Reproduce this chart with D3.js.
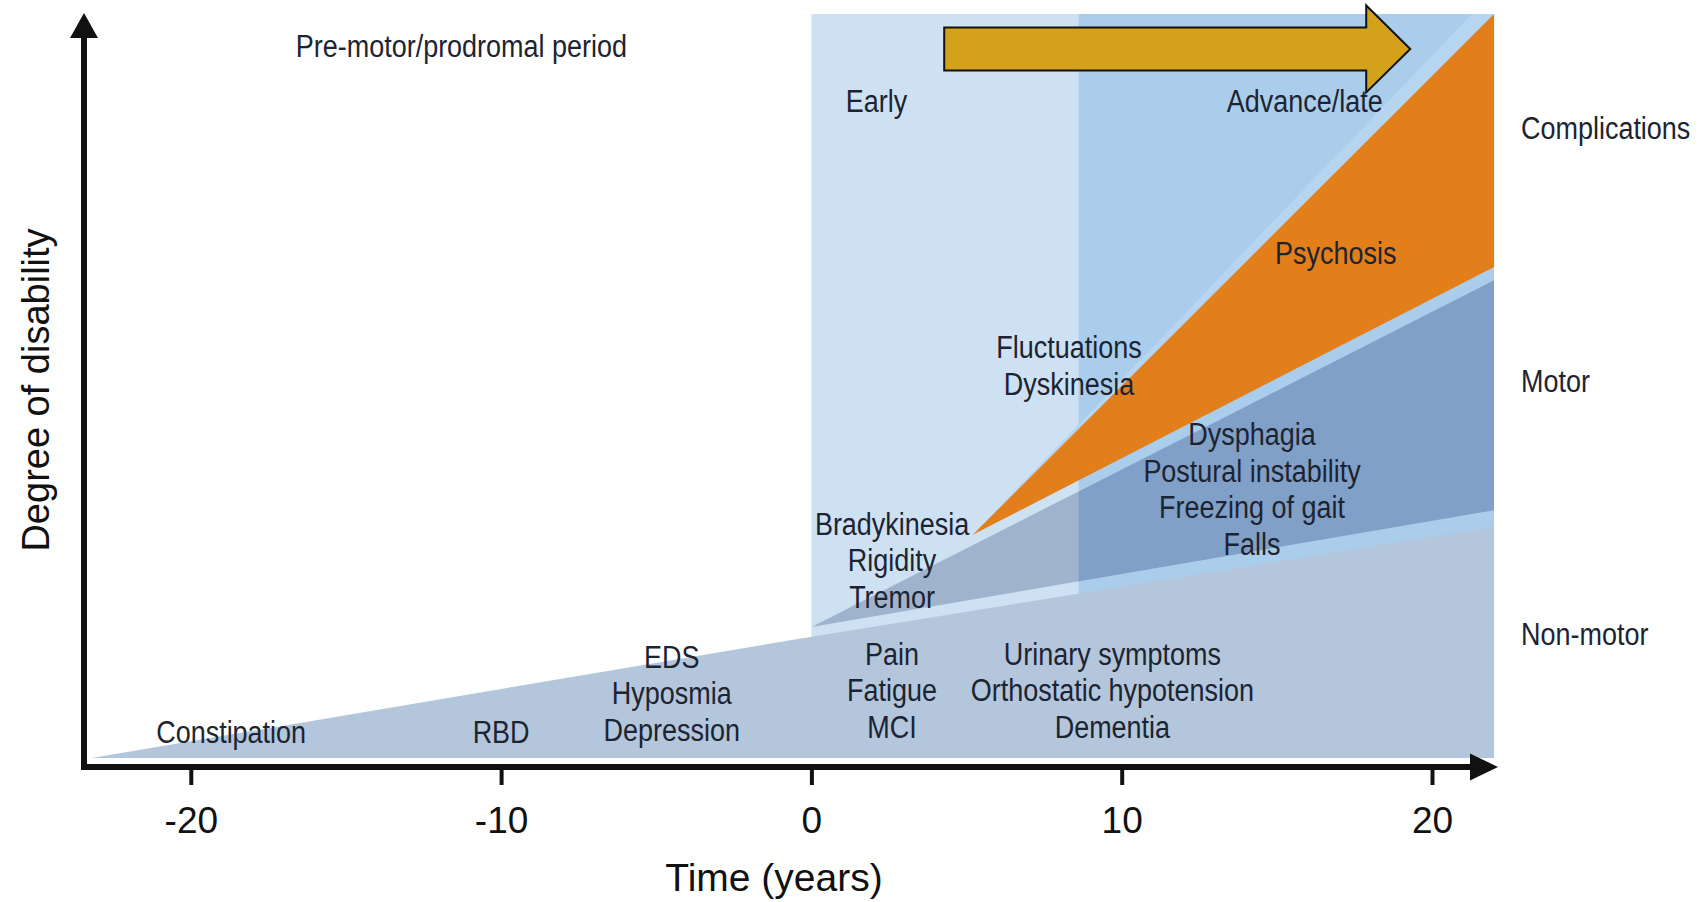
<!DOCTYPE html>
<html lang="en">
<head>
<meta charset="UTF-8">
<title>Progression of Parkinson's disease</title>
<script src="https://d3js.org/d3.v7.min.js"></script>
<style>
  body { margin: 0; background: #fff; }
  text { font-family: "Liberation Sans", Arial, Helvetica, sans-serif; fill: #1d2431; }
</style>
</head>
<body>
<svg id="chart" width="1700" height="902"></svg>
<script>
// time axis (years)
const xTicks = [-20, -10, 0, 10, 20];

// stages
const stageNames = ["Early", "Advance/late"];
const stageStart = [0, 8.6];
const stageEnd = [8.6, 22];
const stageLabelYear = [2.1, 15.9];

// bands: degree of disability (0-100) at given years
const nonMotorYears = [-23.2, 0, 22];
const nonMotorTop = [0, 16.3, 31.1];
const motorYears = [0, 22];
const motorLow = [17.6, 33.3];
const motorHigh = [17.6, 64.2];
const complYears = [5.2, 22];
const complLow = [30, 66];
const complHigh = [30, 100];

// symptoms, each group centred on a year, last line sitting at a level
const symptomGroups = [
  ["Constipation"],
  ["RBD"],
  ["EDS", "Hyposmia", "Depression"],
  ["Pain", "Fatigue", "MCI"],
  ["Urinary symptoms", "Orthostatic hypotension", "Dementia"],
  ["Bradykinesia", "Rigidity", "Tremor"],
  ["Fluctuations", "Dyskinesia"],
  ["Dysphagia", "Postural instability", "Freezing of gait", "Falls"],
  ["Psychosis"]
];
const symptomYear = [-18.7, -10, -4.5, 2.6, 9.7, 2.6, 8.3, 14.2, 16.9];
const symptomLevel = [2.0, 2.0, 2.3, 2.7, 2.7, 20.2, 48.8, 27.3, 66.4];

// categories on the right
const categoryNames = ["Complications", "Motor", "Non-motor"];
const categoryLevel = [83.2, 49.2, 15.2];

// progress arrow: start, head base, tip (years)
const arrowYears = [4.28, 17.88, 19.3];

const svg = d3.select("#chart");

const x = d3.scaleLinear().domain([-20, 20]).range([190.8, 1432]);
const y = d3.scaleLinear().domain([0, 100]).range([758, 14]);

const lineGap = 36.5;
const squeeze = 0.87;   // the labels use a narrow face

// stage panels
svg.selectAll("rect.stage")
  .data(stageNames)
  .enter()
  .append("rect")
  .attr("x", (d, i) => x(stageStart[i]))
  .attr("y", y(100))
  .attr("width", (d, i) => x(stageEnd[i]) - x(stageStart[i]))
  .attr("height", y(0) - y(100))
  .style("fill", (d, i) => i === 0 ? "#cde1f3" : "#abcdec");

// light strip above the complications band
svg.append("path")
  .attr("d", d3.line()([
    [x(complYears[0]), y(complHigh[0])],
    [x(complYears[1]), y(complHigh[1])],
    [x(complYears[1]) - 22, y(complHigh[1])]
  ]))
  .style("fill", "#b6d5f1");

const area = d3.area()
  .x(d => x(d.year))
  .y0(d => y(d.lo))
  .y1(d => y(d.hi));

// non-motor band
const nonMotor = nonMotorYears.map((yr, i) => ({ year: yr, lo: 0, hi: nonMotorTop[i] }));
svg.append("path")
  .attr("d", area(nonMotor))
  .style("fill", "#b3c6dc");

// motor band, two shades following the stages
const motor = motorYears.map((yr, i) => ({ year: yr, lo: motorLow[i], hi: motorHigh[i] }));
const motorColors = ["#a0b3cc", "#80a0c8"];
stageNames.forEach((s, i) => {
  svg.append("clipPath")
    .attr("id", "clip" + i)
    .append("rect")
    .attr("x", x(stageStart[i]))
    .attr("y", 0)
    .attr("width", x(stageEnd[i]) - x(stageStart[i]))
    .attr("height", 902);
  svg.append("path")
    .attr("d", area(motor))
    .attr("clip-path", "url(#clip" + i + ")")
    .style("fill", motorColors[i]);
});

// complications band
const compl = complYears.map((yr, i) => ({ year: yr, lo: complLow[i], hi: complHigh[i] }));
svg.append("path")
  .attr("d", area(compl))
  .style("fill", "#e27f1b");

// golden progress arrow
const ay = y(95.3);
const ax0 = x(arrowYears[0]), ax1 = x(arrowYears[1]), ax2 = x(arrowYears[2]);
svg.append("path")
  .attr("d", d3.line()([
    [ax0, ay - 21.5], [ax1, ay - 21.5], [ax1, ay - 43.5], [ax2, ay],
    [ax1, ay + 43.5], [ax1, ay + 21.5], [ax0, ay + 21.5]
  ]) + "Z")
  .style("fill", "#d4a21a")
  .style("stroke", "#111")
  .style("stroke-width", 2);

// helper for narrow labels
function label(tx, ty, str, size, anchor) {
  svg.append("text")
    .attr("transform", `translate(${tx},${ty}) scale(${squeeze},1)`)
    .attr("text-anchor", anchor || "middle")
    .style("font-size", size + "px")
    .text(str);
}

// stage names and prodromal title
stageNames.forEach((s, i) => label(x(stageLabelYear[i]), y(86.8), s, 31));
label(x(-11.28), y(94.2), "Pre-motor/prodromal period", 31);

// symptoms
symptomGroups.forEach((lines, i) => {
  const n = lines.length;
  lines.forEach((t, j) => {
    label(x(symptomYear[i]), y(symptomLevel[i]) - (n - 1 - j) * lineGap, t, 31);
  });
});

// categories on the right
categoryNames.forEach((c, i) => label(1521, y(categoryLevel[i]), c, 31, "start"));

// x axis
const axisY = 767;
const xAxis = d3.axisBottom(x)
  .tickValues(xTicks)
  .tickSize(18)
  .tickPadding(22)
  .tickFormat(d => String(d));

const gx = svg.append("g")
  .attr("transform", `translate(0,${axisY})`)
  .call(xAxis);
gx.select(".domain").remove();
gx.selectAll(".tick line").style("stroke", "#111").style("stroke-width", 4);
gx.selectAll(".tick text")
  .style("font-size", "37px")
  .style("font-family", "'Liberation Sans', Arial, sans-serif")
  .style("fill", "#111");

svg.append("line")
  .attr("x1", 81).attr("x2", 1476)
  .attr("y1", axisY).attr("y2", axisY)
  .style("stroke", "#111")
  .style("stroke-width", 6);
svg.append("path")
  .attr("d", d3.line()([[1470, axisY - 13.5], [1498, axisY], [1470, axisY + 13.5]]) + "Z")
  .style("fill", "#111");

// y axis
svg.append("line")
  .attr("x1", 84).attr("x2", 84)
  .attr("y1", axisY + 3).attr("y2", 34)
  .style("stroke", "#111")
  .style("stroke-width", 6);
svg.append("path")
  .attr("d", d3.line()([[70, 38], [84, 13], [98, 38]]) + "Z")
  .style("fill", "#111");

// axis titles
svg.append("text")
  .attr("x", 774)
  .attr("y", 891)
  .attr("text-anchor", "middle")
  .style("font-size", "39px")
  .style("fill", "#111")
  .text("Time (years)");

svg.append("text")
  .attr("transform", "translate(49,390) rotate(-90)")
  .attr("text-anchor", "middle")
  .style("font-size", "38px")
  .style("fill", "#111")
  .text("Degree of disability");
</script>
</body>
</html>
